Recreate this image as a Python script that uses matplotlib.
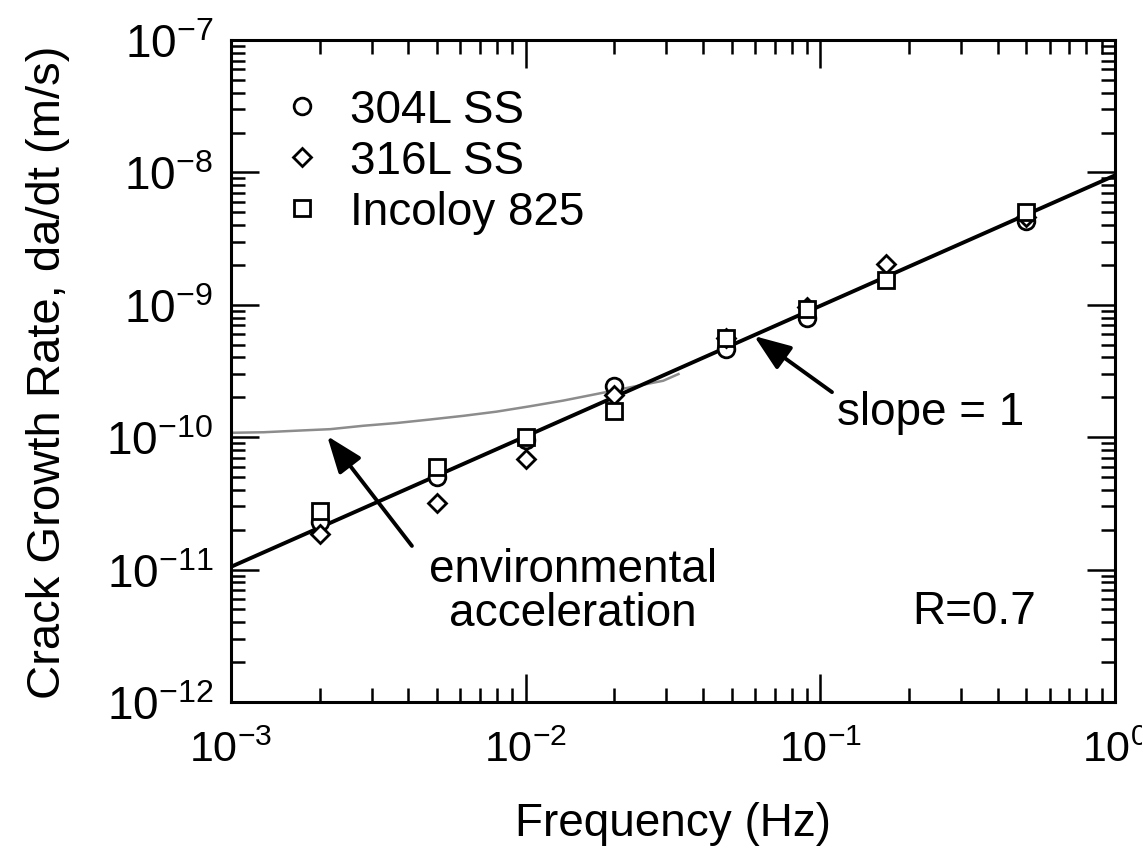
import numpy as np
import matplotlib
matplotlib.use("Agg")
import matplotlib.pyplot as plt
from matplotlib.ticker import LogLocator, NullFormatter

plt.rcParams['font.family'] = ['Liberation Sans', 'DejaVu Sans']
plt.rcParams['mathtext.fontset'] = 'custom'
plt.rcParams['mathtext.rm'] = 'Liberation Sans'
plt.rcParams['mathtext.it'] = 'Liberation Sans:italic'

# data
freq_304 = [2e-3, 5e-3, 1e-2, 2e-2, 0.048, 0.09, 0.5]
rate_304 = [2.3e-11, 5.0e-11, 9.5e-11, 2.45e-10, 4.6e-10, 8.0e-10, 4.3e-9]

freq_316 = [2e-3, 5e-3, 1e-2, 2e-2, 0.048, 0.09, 0.167, 0.5]
rate_316 = [1.85e-11, 3.2e-11, 6.9e-11, 2.1e-10, 5.6e-10, 9.6e-10, 2.05e-9, 4.6e-9]

freq_825 = [2e-3, 5e-3, 1e-2, 2e-2, 0.048, 0.09, 0.167, 0.5]
rate_825 = [2.75e-11, 6.0e-11, 1.0e-10, 1.58e-10, 5.6e-10, 9.3e-10, 1.55e-9, 5.0e-9]

fit_freq = [1e-3, 1.0]
fit_rate = [1.05e-11, 9.5e-9]

env_freq = [1e-3, 1.29e-3, 1.67e-3, 2.17e-3, 2.81e-3, 3.65e-3, 4.73e-3, 6.14e-3,
            7.97e-3, 1.03e-2, 1.34e-2, 1.74e-2, 2.26e-2, 2.93e-2, 3.3e-2]
env_rate = [1.08e-10, 1.09e-10, 1.12e-10, 1.15e-10, 1.22e-10, 1.28e-10, 1.36e-10, 1.45e-10,
            1.56e-10, 1.71e-10, 1.89e-10, 2.12e-10, 2.38e-10, 2.67e-10, 3.0e-10]

x_major = [1e-3, 1e-2, 1e-1, 1e0]
x_labels = ['10$^{-3}$', '10$^{-2}$', '10$^{-1}$', '10$^{0}$']
y_major = [1e-12, 1e-11, 1e-10, 1e-9, 1e-8, 1e-7]
y_labels = ['10$^{-12}$', '10$^{-11}$', '10$^{-10}$', '10$^{-9}$', '10$^{-8}$', '10$^{-7}$']

fig = plt.figure(figsize=(11.42, 8.54), dpi=100)
ax = fig.add_axes([0.2023, 0.1768, 0.7741, 0.7752])

ax.plot(env_freq, env_rate, color='0.55', lw=1.8, zorder=1.5)
ax.plot(fit_freq, fit_rate, color='k', lw=2.8, zorder=2)

mk = dict(ls='none', mfc='white', mec='k', mew=2, zorder=3)
ax.plot(freq_304, rate_304, marker='o', ms=12, label='304L SS', **mk)
ax.plot(freq_316, rate_316, marker='D', ms=9, label='316L SS', **mk)
ax.plot(freq_825, rate_825, marker='s', ms=11, label='Incoloy 825', **mk)

ax.set_xscale('log')
ax.set_yscale('log')
ax.set_xlim(1e-3, 1)
ax.set_ylim(1e-12, 1e-7)

ax.set_xticks(x_major)
ax.set_xticklabels(x_labels)
ax.set_yticks(y_major)
ax.set_yticklabels(y_labels)
ax.xaxis.set_minor_locator(LogLocator(base=10, subs=np.arange(2, 10)))
ax.yaxis.set_minor_locator(LogLocator(base=10, subs=np.arange(2, 10)))
ax.xaxis.set_minor_formatter(NullFormatter())
ax.yaxis.set_minor_formatter(NullFormatter())

ax.tick_params(which='both', direction='in', top=True, right=True, width=1.8)
ax.tick_params(which='major', length=20)
ax.tick_params(which='minor', length=10)
ax.tick_params(axis='x', which='major', pad=20, labelsize=31)
ax.tick_params(axis='y', which='major', pad=13, labelsize=33)
for sp in ax.spines.values():
    sp.set_linewidth(2.2)

ax.set_xlabel('Frequency (Hz)', fontsize=33, labelpad=22)
ax.set_ylabel('Crack Growth Rate, da/dt (m/s)', fontsize=34, labelpad=26)

arrow = dict(arrowstyle='-|>,head_length=0.45,head_width=0.17', lw=2.8, color='k',
             mutation_scale=50, shrinkA=0, shrinkB=0)
ax.annotate('', xy=(2.12e-3, 1.02e-10), xytext=(4.11e-3, 1.51e-11), arrowprops=arrow)
ax.annotate('', xy=(0.0596, 5.81e-10), xytext=(0.1095, 2.19e-10), arrowprops=arrow)

ax.text(1.446e-2, 6.9e-12, 'environmental\nacceleration', fontsize=33,
        ha='center', va='center', multialignment='center', linespacing=1.0)
ax.text(0.1138, 1.55e-10, 'slope = 1', fontsize=33, ha='left', va='center')
ax.text(0.2046, 4.87e-12, 'R=0.7', fontsize=33, ha='left', va='center')

ax.legend(loc='upper left', frameon=False, fontsize=33, handlelength=1.0,
          handletextpad=0.55, labelspacing=0.15, borderaxespad=0.6, borderpad=0.45)

fig.savefig('out.png', dpi=100)
